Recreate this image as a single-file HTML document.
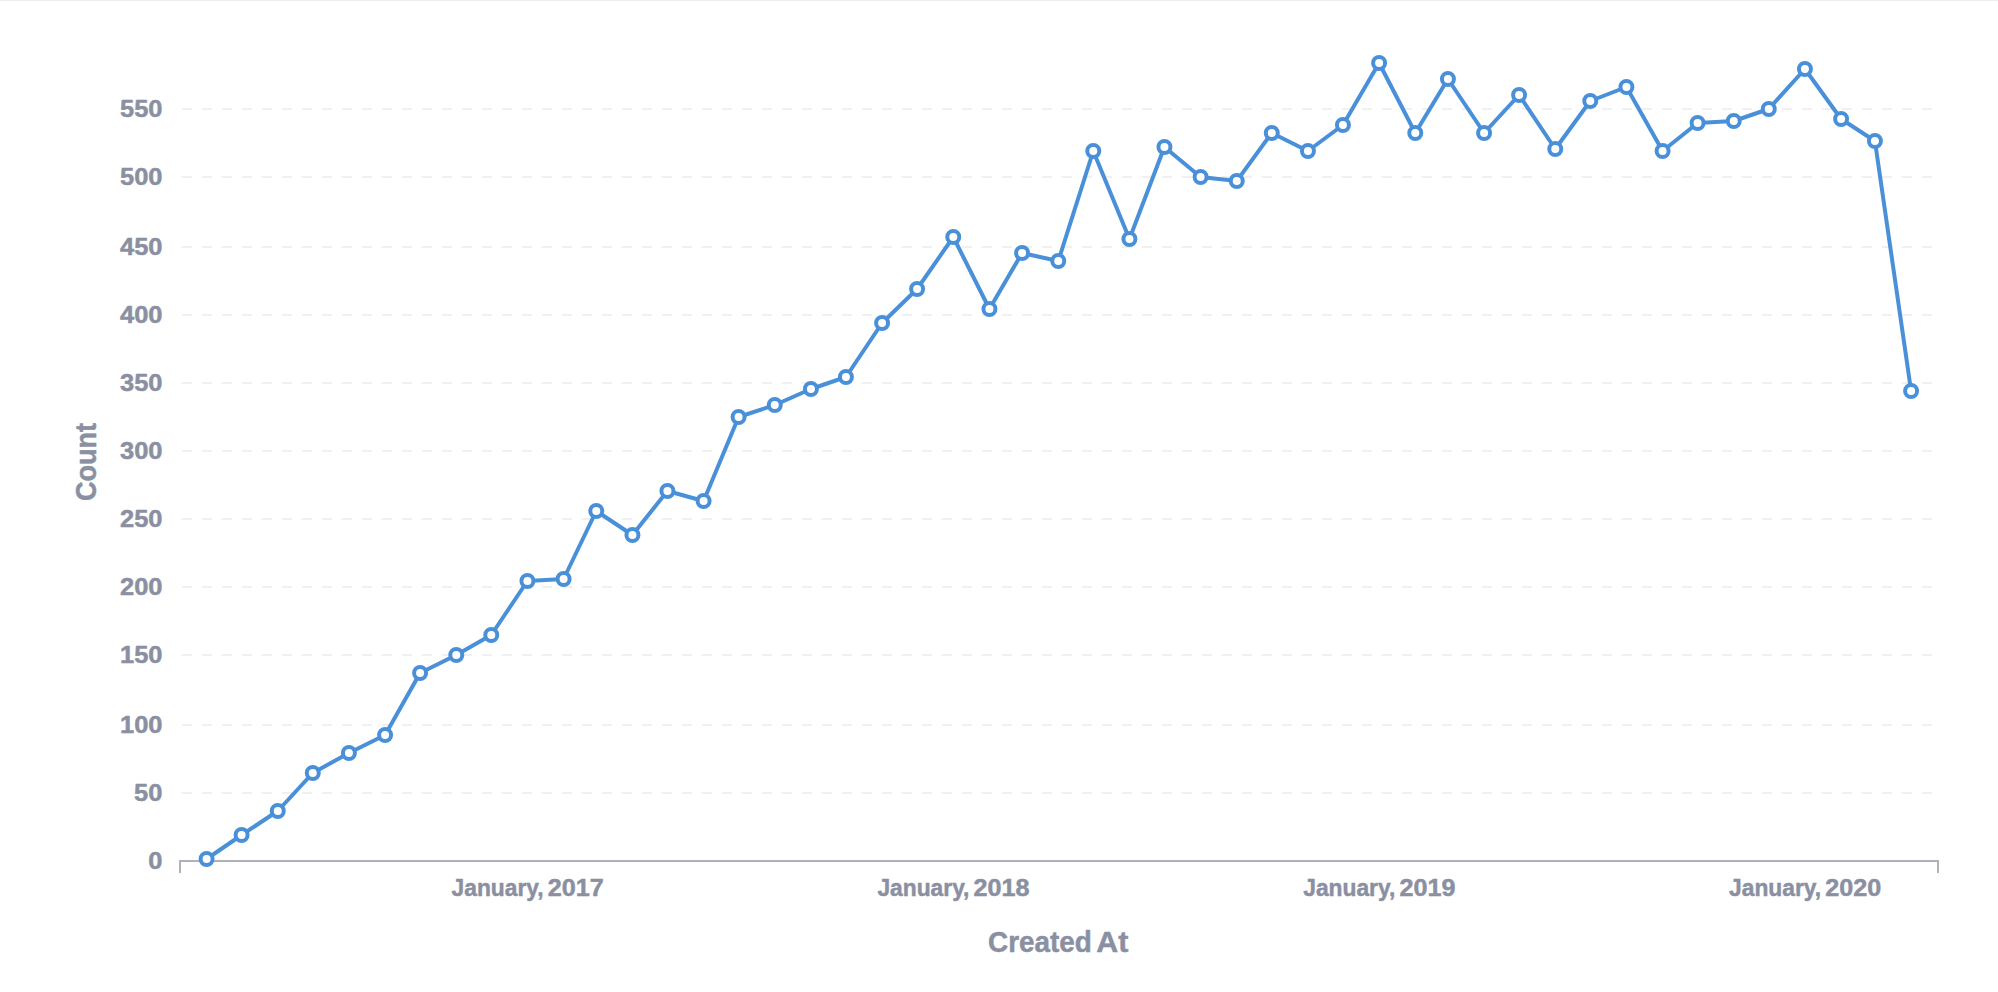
<!DOCTYPE html>
<html lang="en"><head><meta charset="utf-8"><title>Count by Created At</title>
<style>
html,body{margin:0;padding:0;background:#fff;overflow:hidden}
body{width:1998px;height:992px;position:relative}
svg{position:absolute;left:0;top:0;display:block}
text{font-family:"Liberation Sans",sans-serif;font-weight:700;fill:#8A90A2;stroke:#8A90A2;stroke-width:0.5px;stroke-linejoin:round}
.tick{font-size:24.8px}
.num{font-size:24.8px}
.lab{font-size:29px}
.grid line{stroke:#F0F0F0;stroke-width:2;stroke-dasharray:10,10;shape-rendering:crispEdges;fill:none}
.domain{stroke:#AFB2BB;stroke-width:2;fill:none;shape-rendering:crispEdges}
.line{stroke:#4A90D9;stroke-width:4;fill:none;stroke-linejoin:round;stroke-linecap:round}
.dot{stroke:#4A90D9;stroke-width:4;fill:#fff}
.topline{fill:#EDEDED}
</style></head><body>
<svg width="1998" height="992" viewBox="0 0 1998 992">
<rect class="topline" x="0" y="0" width="1998" height="1"/>
<g class="grid">
<line x1="182" y1="793" x2="1938" y2="793"/>
<line x1="182" y1="725" x2="1938" y2="725"/>
<line x1="182" y1="655" x2="1938" y2="655"/>
<line x1="182" y1="587" x2="1938" y2="587"/>
<line x1="182" y1="519" x2="1938" y2="519"/>
<line x1="182" y1="451" x2="1938" y2="451"/>
<line x1="182" y1="383" x2="1938" y2="383"/>
<line x1="182" y1="315" x2="1938" y2="315"/>
<line x1="182" y1="247" x2="1938" y2="247"/>
<line x1="182" y1="177" x2="1938" y2="177"/>
<line x1="182" y1="109" x2="1938" y2="109"/>
</g>
<g class="yaxis">
<text class="num" x="148.31" y="868.68" textLength="14.17" lengthAdjust="spacingAndGlyphs">0</text>
<text class="num" x="134.14" y="800.68" textLength="28.34" lengthAdjust="spacingAndGlyphs">50</text>
<text class="num" x="119.97" y="732.68" textLength="42.51" lengthAdjust="spacingAndGlyphs">100</text>
<text class="num" x="119.97" y="662.68" textLength="42.51" lengthAdjust="spacingAndGlyphs">150</text>
<text class="num" x="119.97" y="594.68" textLength="42.51" lengthAdjust="spacingAndGlyphs">200</text>
<text class="num" x="119.97" y="526.68" textLength="42.51" lengthAdjust="spacingAndGlyphs">250</text>
<text class="num" x="119.97" y="458.68" textLength="42.51" lengthAdjust="spacingAndGlyphs">300</text>
<text class="num" x="119.97" y="390.68" textLength="42.51" lengthAdjust="spacingAndGlyphs">350</text>
<text class="num" x="119.97" y="322.68" textLength="42.51" lengthAdjust="spacingAndGlyphs">400</text>
<text class="num" x="119.97" y="254.68" textLength="42.51" lengthAdjust="spacingAndGlyphs">450</text>
<text class="num" x="119.97" y="184.68" textLength="42.51" lengthAdjust="spacingAndGlyphs">500</text>
<text class="num" x="119.97" y="116.68" textLength="42.51" lengthAdjust="spacingAndGlyphs">550</text>
</g>
<path class="domain" d="M180,873V861H1938V873"/>
<g class="xaxis">
<text y="896"><tspan class="tick" x="451.56" textLength="92.06" lengthAdjust="spacingAndGlyphs">January,</tspan> <tspan class="num" x="547.75" textLength="55.99" lengthAdjust="spacingAndGlyphs">2017</tspan></text>
<text y="896"><tspan class="tick" x="877.40" textLength="92.06" lengthAdjust="spacingAndGlyphs">January,</tspan> <tspan class="num" x="973.59" textLength="55.99" lengthAdjust="spacingAndGlyphs">2018</tspan></text>
<text y="896"><tspan class="tick" x="1303.23" textLength="92.06" lengthAdjust="spacingAndGlyphs">January,</tspan> <tspan class="num" x="1399.42" textLength="55.99" lengthAdjust="spacingAndGlyphs">2019</tspan></text>
<text y="896"><tspan class="tick" x="1729.06" textLength="92.06" lengthAdjust="spacingAndGlyphs">January,</tspan> <tspan class="num" x="1825.25" textLength="55.99" lengthAdjust="spacingAndGlyphs">2020</tspan></text>
</g>
<text class="lab" y="951.5"><tspan x="988.05" textLength="103.75" lengthAdjust="spacingAndGlyphs">Created</tspan> <tspan x="1096.34" textLength="32.05" lengthAdjust="spacingAndGlyphs">At</tspan></text>
<text class="lab" transform="translate(96,501.12) rotate(-90)" x="0" y="0" textLength="78.23" lengthAdjust="spacingAndGlyphs">Count</text>
<polyline class="line" points="206.60,859 241.60,835 277.77,811 312.77,773 348.93,753 385.10,735 420.10,673 456.27,655 491.27,635 527.43,581 563.60,579 596.27,511 632.43,535 667.43,491 703.60,501 738.60,417 774.77,405 810.93,389 845.93,377 882.10,323 917.10,289 953.27,237 989.43,309 1022.10,253 1058.27,261 1093.27,151 1129.43,239 1164.43,147 1200.60,177 1236.77,181 1271.77,133 1307.93,151 1342.93,125 1379.10,63 1415.27,133 1447.93,79 1484.10,133 1519.10,95 1555.27,149 1590.27,101 1626.43,87 1662.60,151 1697.60,123 1733.77,121 1768.77,109 1804.93,69 1841.10,119 1874.93,141 1911.10,391"/>
<g class="dots">
<circle class="dot" cx="206.60" cy="859" r="6"/>
<circle class="dot" cx="241.60" cy="835" r="6"/>
<circle class="dot" cx="277.77" cy="811" r="6"/>
<circle class="dot" cx="312.77" cy="773" r="6"/>
<circle class="dot" cx="348.93" cy="753" r="6"/>
<circle class="dot" cx="385.10" cy="735" r="6"/>
<circle class="dot" cx="420.10" cy="673" r="6"/>
<circle class="dot" cx="456.27" cy="655" r="6"/>
<circle class="dot" cx="491.27" cy="635" r="6"/>
<circle class="dot" cx="527.43" cy="581" r="6"/>
<circle class="dot" cx="563.60" cy="579" r="6"/>
<circle class="dot" cx="596.27" cy="511" r="6"/>
<circle class="dot" cx="632.43" cy="535" r="6"/>
<circle class="dot" cx="667.43" cy="491" r="6"/>
<circle class="dot" cx="703.60" cy="501" r="6"/>
<circle class="dot" cx="738.60" cy="417" r="6"/>
<circle class="dot" cx="774.77" cy="405" r="6"/>
<circle class="dot" cx="810.93" cy="389" r="6"/>
<circle class="dot" cx="845.93" cy="377" r="6"/>
<circle class="dot" cx="882.10" cy="323" r="6"/>
<circle class="dot" cx="917.10" cy="289" r="6"/>
<circle class="dot" cx="953.27" cy="237" r="6"/>
<circle class="dot" cx="989.43" cy="309" r="6"/>
<circle class="dot" cx="1022.10" cy="253" r="6"/>
<circle class="dot" cx="1058.27" cy="261" r="6"/>
<circle class="dot" cx="1093.27" cy="151" r="6"/>
<circle class="dot" cx="1129.43" cy="239" r="6"/>
<circle class="dot" cx="1164.43" cy="147" r="6"/>
<circle class="dot" cx="1200.60" cy="177" r="6"/>
<circle class="dot" cx="1236.77" cy="181" r="6"/>
<circle class="dot" cx="1271.77" cy="133" r="6"/>
<circle class="dot" cx="1307.93" cy="151" r="6"/>
<circle class="dot" cx="1342.93" cy="125" r="6"/>
<circle class="dot" cx="1379.10" cy="63" r="6"/>
<circle class="dot" cx="1415.27" cy="133" r="6"/>
<circle class="dot" cx="1447.93" cy="79" r="6"/>
<circle class="dot" cx="1484.10" cy="133" r="6"/>
<circle class="dot" cx="1519.10" cy="95" r="6"/>
<circle class="dot" cx="1555.27" cy="149" r="6"/>
<circle class="dot" cx="1590.27" cy="101" r="6"/>
<circle class="dot" cx="1626.43" cy="87" r="6"/>
<circle class="dot" cx="1662.60" cy="151" r="6"/>
<circle class="dot" cx="1697.60" cy="123" r="6"/>
<circle class="dot" cx="1733.77" cy="121" r="6"/>
<circle class="dot" cx="1768.77" cy="109" r="6"/>
<circle class="dot" cx="1804.93" cy="69" r="6"/>
<circle class="dot" cx="1841.10" cy="119" r="6"/>
<circle class="dot" cx="1874.93" cy="141" r="6"/>
<circle class="dot" cx="1911.10" cy="391" r="6"/>
</g>
</svg>
</body></html>
